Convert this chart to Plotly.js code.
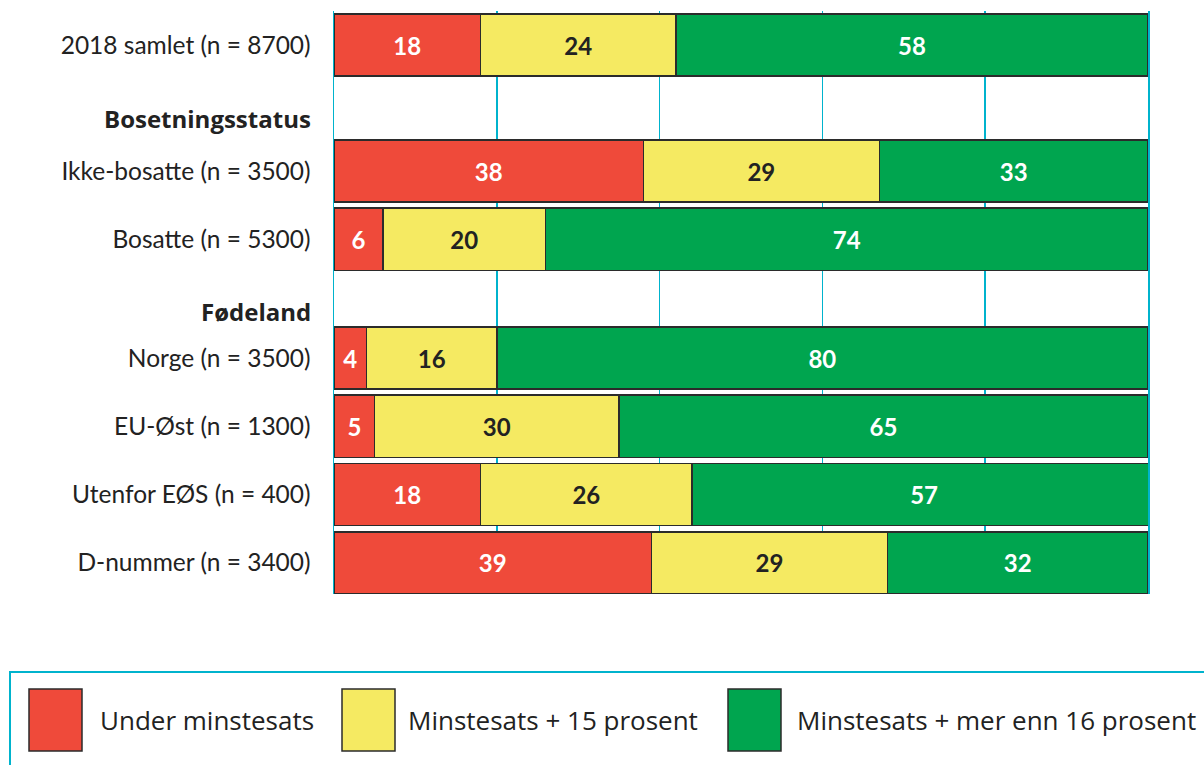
<!DOCTYPE html>
<html>
<head>
<meta charset="utf-8">
<script src="https://cdn.plot.ly/plotly-3.0.1.min.js"></script>
<style>html,body{margin:0;padding:0;background:#fff;}#chart{width:1204px;height:765px;}</style>
</head>
<body>
<div id="chart"></div>
<script>
// ---- data ----
const rowLabels = ['2018 samlet (n = 8700)', 'Ikke-bosatte (n = 3500)', 'Bosatte (n = 5300)',
  'Norge (n = 3500)', 'EU-Øst (n = 1300)', 'Utenfor EØS (n = 400)', 'D-nummer (n = 3400)'];
const rowGroup = [0, 1, 1, 2, 2, 2, 2];
const groupHeaders = ['', 'Bosetningsstatus', 'Fødeland'];
const underMinstesats = [18, 38, 6, 4, 5, 18, 39];
const minstesats15 = [24, 29, 20, 16, 30, 26, 29];
const minstesatsOver16 = [58, 33, 74, 80, 65, 57, 32];
const seriesNames = ['Under minstesats', 'Minstesats + 15 prosent', 'Minstesats + mer enn 16 prosent'];

// ---- style / layout constants ----
const W = 1204, H = 765, L = 334, R = 1148;
const colors = ['#EF4A3A', '#F5EA62', '#00A54F'];
const textColors = ['#ffffff', '#222222', '#ffffff'];
const gridColor = '#00B3CD';
const outline = '#2b2b2b';
const FONT = 'Lato, "Open Sans", sans-serif';
const HFONT = '"Open Sans", Lato, sans-serif';
const LFONT = '"Open Sans", Lato, sans-serif';
const pitch = 68.3;
const firstCenter = [45, 171, 358];           // px centre of first bar in each group
const bounds = [10.85, 79.15, 273.75, 594];   // px boundaries of group panels
const headerY = [null, 118, 311];

const px2x = px => (px - L) / (R - L);
const py2y = py => 1 - py / H;
const series = [underMinstesats, minstesats15, minstesatsOver16];
const axNames = ['y', 'y2', 'y3'];

const traces = [];
series.forEach((vals, s) => {
  [0, 1, 2].forEach(g => {
    const idx = rowGroup.map((gg, i) => gg === g ? i : -1).filter(i => i >= 0);
    traces.push({
      type: 'bar', orientation: 'h',
      name: seriesNames[s], legendgroup: seriesNames[s], showlegend: false,
      x: idx.map(i => vals[i]), y: idx.map(i => rowLabels[i]),
      yaxis: axNames[g], xaxis: 'x',
      marker: { color: colors[s], line: { color: outline, width: 1.5 } },
      texttemplate: '%{x}', textposition: 'inside', insidetextanchor: 'middle',
      constraintext: 'none',
      textfont: { family: FONT, size: 24, weight: 700, color: textColors[s] },
      hoverinfo: 'x+y+name'
    });
  });
});

const layout = {
  width: W, height: H,
  margin: { l: L, r: W - R, t: 0, b: 0 },
  paper_bgcolor: '#fff', plot_bgcolor: 'rgba(0,0,0,0)',
  barmode: 'stack', bargap: 0.09,
  font: { family: FONT, size: 24, color: '#222' },
  showlegend: false,
  xaxis: {
    anchor: 'y3', range: [0, 100], tick0: 0, dtick: 20,
    showticklabels: false, ticks: '', showgrid: true, gridcolor: gridColor, gridwidth: 1.5,
    zeroline: false, showline: false, fixedrange: true
  },
  shapes: [], annotations: []
};

[0, 1, 2].forEach(g => {
  const labels = rowLabels.filter((_, i) => rowGroup[i] === g);
  const top = bounds[g], bot = bounds[g + 1];
  const key = g === 0 ? 'yaxis' : 'yaxis' + (g + 1);
  layout[key] = {
    type: 'category', categoryarray: labels, categoryorder: 'array',
    domain: [py2y(bot), py2y(top)],
    range: [(bot - firstCenter[g]) / pitch, -(firstCenter[g] - top) / pitch],
    anchor: 'x',
    showline: true, mirror: true, linecolor: gridColor, linewidth: 1.5, layer: 'below traces',
    ticks: 'outside', ticklen: 17, tickcolor: 'rgba(0,0,0,0)',
    tickfont: { family: FONT, size: 24.5, color: '#222' },
    showgrid: false, zeroline: false, fixedrange: true
  };
  if (groupHeaders[g]) {
    layout.annotations.push({
      xref: 'paper', yref: 'paper', x: px2x(313), y: py2y(headerY[g]),
      xanchor: 'right', yanchor: 'middle', showarrow: false,
      text: groupHeaders[g], font: { family: HFONT, size: 24, weight: 700, color: '#222' }
    });
  }
});

// legend box (manual, large swatches)
layout.shapes.push({
  type: 'rect', xref: 'paper', yref: 'paper',
  x0: px2x(10), x1: px2x(1230), y0: py2y(672), y1: py2y(800),
  line: { color: gridColor, width: 2 }, fillcolor: 'rgba(0,0,0,0)'
});
const swatchX = [29, 342, 728], textX = [98, 406, 795];
seriesNames.forEach((nm, s) => {
  layout.shapes.push({
    type: 'rect', xref: 'paper', yref: 'paper',
    x0: px2x(swatchX[s]), x1: px2x(swatchX[s] + 53), y0: py2y(751), y1: py2y(689),
    line: { color: outline, width: 1.5 }, fillcolor: colors[s]
  });
  layout.annotations.push({
    xref: 'paper', yref: 'paper', x: px2x(textX[s]), y: py2y(720),
    xanchor: 'left', yanchor: 'middle', showarrow: false,
    text: nm, font: { family: LFONT, size: 26, color: '#222' }
  });
});

Plotly.newPlot('chart', traces, layout, { displayModeBar: false, staticPlot: true });
</script>
</body>
</html>
